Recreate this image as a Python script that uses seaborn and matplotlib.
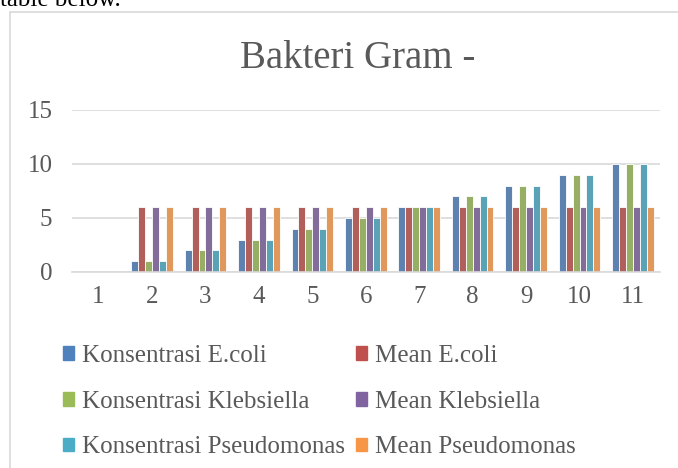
import pandas as pd
import numpy as np
import matplotlib.pyplot as plt
import seaborn as sns
from matplotlib.patches import Rectangle

categories = ["1", "2", "3", "4", "5", "6", "7", "8", "9", "10", "11"]
konsentrasi_ecoli = [0, 1, 2, 3, 4, 5, 6, 7, 8, 9, 10]
mean_ecoli = [0, 6, 6, 6, 6, 6, 6, 6, 6, 6, 6]
konsentrasi_klebsiella = [0, 1, 2, 3, 4, 5, 6, 7, 8, 9, 10]
mean_klebsiella = [0, 6, 6, 6, 6, 6, 6, 6, 6, 6, 6]
konsentrasi_pseudomonas = [0, 1, 2, 3, 4, 5, 6, 7, 8, 9, 10]
mean_pseudomonas = [0, 6, 6, 6, 6, 6, 6, 6, 6, 6, 6]

series = {
    "Konsentrasi E.coli": konsentrasi_ecoli,
    "Mean E.coli": mean_ecoli,
    "Konsentrasi Klebsiella": konsentrasi_klebsiella,
    "Mean Klebsiella": mean_klebsiella,
    "Konsentrasi Pseudomonas": konsentrasi_pseudomonas,
    "Mean Pseudomonas": mean_pseudomonas,
}
colors = ["#4F81BD", "#C0504D", "#9BBB59", "#8064A2", "#4BACC6", "#F79646"]

rows = []
for name, vals in series.items():
    for c, v in zip(categories, vals):
        rows.append({"cat": c, "val": v, "series": name})
df = pd.DataFrame(rows)

sns.set_style("white")
plt.rcParams["font.family"] = ["Liberation Serif", "DejaVu Serif"]
text_color = "#595959"

fig = plt.figure(figsize=(6.78, 4.68), dpi=100)
ax = fig.add_axes([0.106, 0.419, 0.867, 0.346])

sns.barplot(data=df, x="cat", y="val", hue="series", palette=colors,
            order=categories, hue_order=list(series.keys()),
            width=0.78, edgecolor="white", linewidth=0.6, ax=ax, legend=False)
# empty values at category 1 are not drawn
for p in ax.patches:
    if p.get_height() == 0:
        p.set_visible(False)

ax.set_ylim(0, 15)
ax.set_yticks([0, 5, 10, 15])
ax.set_xlim(-0.5, 10.5)
ax.yaxis.grid(True, color="#d9d9d9", linewidth=1.2)
ax.set_axisbelow(True)
for s in ["top", "right", "left"]:
    ax.spines[s].set_visible(False)
ax.spines["bottom"].set_color("#d9d9d9")
ax.spines["bottom"].set_linewidth(1.2)
ax.set_xlabel("")
ax.set_ylabel("")
ax.tick_params(axis="both", length=0, labelsize=18, colors=text_color, pad=10)
ax.tick_params(axis="y", pad=14)

fig.text(0.527, 0.876, "Bakteri Gram -", ha="center", va="center",
         fontsize=28, color=text_color)

# legend: row order in 2 columns
names = list(series.keys())
handles = [Rectangle((0, 0), 1, 1, color=c) for c in colors]
order = [0, 2, 4, 1, 3, 5]
fig.legend([handles[i] for i in order], [names[i] for i in order],
           loc="upper left", bbox_to_anchor=(0.06, 0.311), ncol=2,
           frameon=False, fontsize=18, handlelength=0.45, handleheight=0.45,
           handletextpad=0.3, columnspacing=0.45, labelspacing=0.95,
           labelcolor=text_color)

# chart frame and cut text from page above
fig.add_artist(Rectangle((0.015, -0.01), 1.0, 0.985, transform=fig.transFigure,
                         fill=False, edgecolor="#d9d9d9", linewidth=1.2))
fig.text(0.0, 1.0, "table below.", ha="left", va="center", fontsize=18,
         color="black")

fig.savefig("out.png", dpi=100)
